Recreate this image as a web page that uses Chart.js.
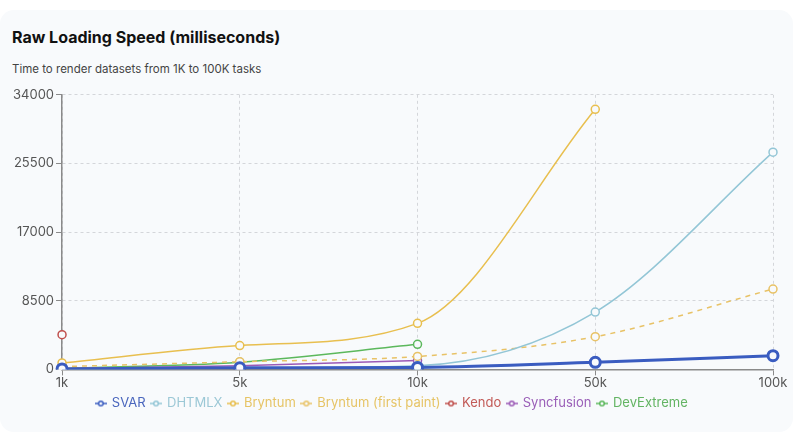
<!DOCTYPE html>
<html>
<head>
<meta charset="utf-8">
<script src="https://cdn.jsdelivr.net/npm/chart.js@4"></script>
<style>
    html, body { margin: 0; padding: 0; background: #fff; font-family: Inter, "Noto Sans", sans-serif; }
    .card { position: absolute; left: 0; top: 10px; width: 793px; height: 422px; background: #f8fafc; border-radius: 14px; }
    .card h2 { position: absolute; left: 12px; top: 17px; margin: 0; font-size: 16px; font-weight: 700; color: #111; }
    .card p { position: absolute; left: 12px; top: 52px; margin: 0; font-size: 11.5px; color: #444; }
    .chart-box { position: absolute; left: 0; top: 75px; width: 793px; height: 335px; }
</style>
</head>
<body>
<div class="card">
    <h2>Raw Loading Speed (milliseconds)</h2>
    <p>Time to render datasets from 1K to 100K tasks</p>
    <div class="chart-box"><canvas id="speedChart"></canvas></div>
</div>
<script>
const categories = ['1k', '5k', '10k', '50k', '100k'];
const yTicks = [0, 8500, 17000, 25500, 34000];

const svar = [60, 200, 250, 870, 1700];
const dhtmlx = [20, 150, 450, 7100, 26900];
const bryntum = [800, 2950, 5700, 32200, null];
const bryntumPaint = [350, 950, 1600, 4050, 9950];
const kendo = [4300, null, null, null, null];
const syncfusion = [100, 450, 1100, null, null];
const devextreme = [120, 900, 3100, null, null];

const seriesNames = ['SVAR', 'DHTMLX', 'Bryntum', 'Bryntum (first paint)', 'Kendo', 'Syncfusion', 'DevExtreme'];
const seriesColors = ['#3a5cc0', '#93c6d6', '#e8bf4f', '#e8c266', '#c0504d', '#9b59b6', '#5cb85c'];
const legendColors = ['#4a66bd', '#9cc8d6', '#e6c466', '#e6c466', '#c25a57', '#9a5fb8', '#63b463'];

// little "-o-" icon used for the legend
function makeIcon(color) {
    const c = document.createElement('canvas');
    c.width = 12; c.height = 8;
    const g = c.getContext('2d');
    g.strokeStyle = color;
    g.lineWidth = 1.5;
    g.beginPath(); g.moveTo(0, 4); g.lineTo(12, 4); g.stroke();
    g.fillStyle = '#f8fafc';
    g.beginPath(); g.arc(6, 4, 2.3, 0, Math.PI * 2); g.fill(); g.stroke();
    return c;
}

function makeSet(i, data, extra) {
    return Object.assign({
        label: seriesNames[i],
        data: data,
        borderColor: seriesColors[i],
        backgroundColor: '#f8fafc',
        pointBackgroundColor: '#f8fafc',
        pointBorderColor: seriesColors[i],
        borderWidth: 1.5,
        pointRadius: 4,
        pointBorderWidth: 1.5,
        cubicInterpolationMode: 'monotone',
        spanGaps: false
    }, extra || {});
}

const datasets = [
    makeSet(0, svar, { borderWidth: 3, pointRadius: 5, pointBorderWidth: 3 }),
    makeSet(1, dhtmlx),
    makeSet(2, bryntum),
    makeSet(3, bryntumPaint, { borderDash: [5, 5] }),
    makeSet(4, kendo),
    makeSet(5, syncfusion),
    makeSet(6, devextreme)
];
// draw SVAR on top
datasets[0].order = -1;

const icons = seriesColors.map(makeIcon);
const tickFont = { family: 'Inter', size: 13 };

new Chart(document.getElementById('speedChart').getContext('2d'), {
    type: 'line',
    data: { labels: categories, datasets: datasets },
    options: {
        responsive: true,
        maintainAspectRatio: false,
        animation: false,
        layout: { padding: { left: 11, right: 20, top: 8, bottom: 0 } },
        plugins: {
            legend: {
                position: 'bottom',
                labels: {
                    usePointStyle: true,
                    pointStyleWidth: 9,
                    font: { family: 'Inter', size: 13 },
                    padding: 6,
                    generateLabels(chart) {
                        return chart.data.datasets.map((ds, i) => ({
                            text: ds.label,
                            fillStyle: seriesColors[i],
                            strokeStyle: seriesColors[i],
                            fontColor: legendColors[i],
                            pointStyle: icons[i],
                            lineWidth: 0,
                            hidden: !chart.isDatasetVisible(i),
                            datasetIndex: i
                        }));
                    }
                }
            },
            tooltip: { enabled: false }
        },
        scales: {
            x: {
                offset: false,
                grid: { color: '#d4d6da', tickColor: '#8a8a8a', tickLength: 6 },
                border: { display: true, color: '#8a8a8a', width: 1.5, dash: [3, 3] },
                ticks: { color: '#555', font: tickFont, padding: 0, maxRotation: 0 }
            },
            y: {
                min: 0,
                max: 34000,
                afterBuildTicks(axis) { axis.ticks = yTicks.map(v => ({ value: v })); },
                grid: { color: '#d4d6da', tickColor: '#8a8a8a', tickLength: 6 },
                border: { display: true, color: '#8a8a8a', width: 1.5, dash: [3, 3] },
                ticks: { color: '#555', font: tickFont, padding: 2, callback: v => String(v) }
            }
        }
    }
});
</script>
</body>
</html>
